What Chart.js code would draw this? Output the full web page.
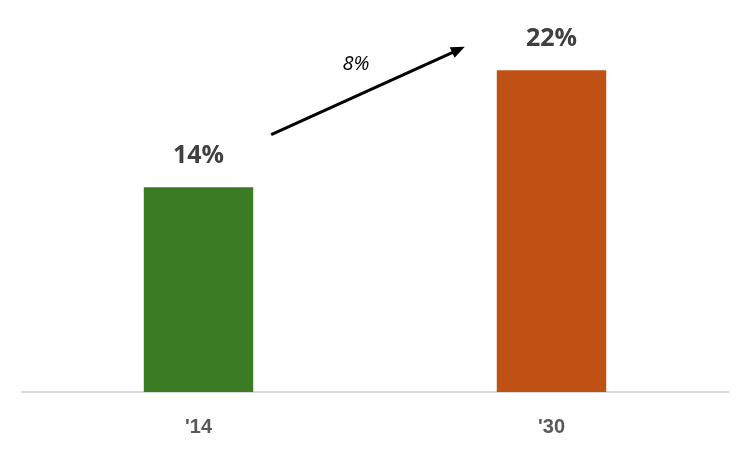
<!DOCTYPE html>
<html>
<head>
<meta charset="utf-8">
<script src="https://cdn.jsdelivr.net/npm/chart.js@4"></script>
<style>
  html, body { margin: 0; padding: 0; background: #fff; }
  #wrap { width: 750px; height: 450px; }
</style>
</head>
<body>
<div id="wrap"><canvas id="chart-share"></canvas></div>
<script>
const labels = ["'14", "'30"];
const values = [14, 22];
const barColors = ["#3b7b23", "#c05115"];
const growthLabel = "8%";
// arrow runs between these two values on the y scale
const arrowFrom = 17.6;
const arrowTo = 23.6;

const barLabels = {
    id: "barLabels",
    afterDatasetsDraw(chart) {
        const ctx = chart.ctx;
        const meta = chart.getDatasetMeta(0);
        ctx.save();
        ctx.fillStyle = "#404040";
        ctx.font = "bold 25px 'Open Sans', sans-serif";
        ctx.textAlign = "center";
        ctx.textBaseline = "middle";
        meta.data.forEach((bar, i) => {
            ctx.fillText(values[i] + "%", bar.x, bar.y - 31);
        });

        // growth arrow
        const y = chart.scales.y;
        const b1 = meta.data[0], b2 = meta.data[1];
        const x1 = b1.x + b1.width / 2 + 18;
        const x2 = b2.x - b2.width / 2 - 32;
        const y1 = y.getPixelForValue(arrowFrom);
        const y2 = y.getPixelForValue(arrowTo);
        const ang = Math.atan2(y2 - y1, x2 - x1);
        const head = 15;
        ctx.strokeStyle = "#000";
        ctx.fillStyle = "#000";
        ctx.lineWidth = 3;
        ctx.beginPath();
        ctx.moveTo(x1, y1);
        ctx.lineTo(x2 - Math.cos(ang) * head * 0.8, y2 - Math.sin(ang) * head * 0.8);
        ctx.stroke();
        ctx.beginPath();
        ctx.moveTo(x2, y2);
        ctx.lineTo(x2 - head * Math.cos(ang - 0.4), y2 - head * Math.sin(ang - 0.4));
        ctx.lineTo(x2 - head * Math.cos(ang + 0.4), y2 - head * Math.sin(ang + 0.4));
        ctx.closePath();
        ctx.fill();

        ctx.fillStyle = "#000";
        ctx.font = "italic 20px 'Open Sans', sans-serif";
        ctx.fillText(growthLabel, (x1 + x2) / 2 - 12, (y1 + y2) / 2 - 26);
        ctx.restore();
    }
};

const data = {
    labels: labels,
    datasets: [
        {
            data: values,
            backgroundColor: barColors,
            barPercentage: 0.31,
            categoryPercentage: 1,
        },
    ],
};

const config = {
    type: "bar",
    data: data,
    options: {
        responsive: false,
        animation: false,
        layout: { padding: { left: 22, right: 22, top: 0, bottom: 0 } },
        plugins: { legend: { display: false }, tooltip: { enabled: false } },
        scales: {
            x: {
                grid: { display: false, drawTicks: false },
                border: { color: "#d9d9d9", width: 2 },
                ticks: {
                    color: "#595959",
                    padding: 23,
                    font: { family: "'Liberation Sans Narrow', 'Liberation Sans', sans-serif", size: 20, weight: "bold" },
                },
                afterFit(scale) { scale.height = 58; },
            },
            y: { display: false, min: 0, max: 26.8 },
        },
    },
    plugins: [barLabels],
};

const canvas = document.getElementById("chart-share");
canvas.width = 750;
canvas.height = 450;
const chart = new Chart(canvas, config);
</script>
</body>
</html>
